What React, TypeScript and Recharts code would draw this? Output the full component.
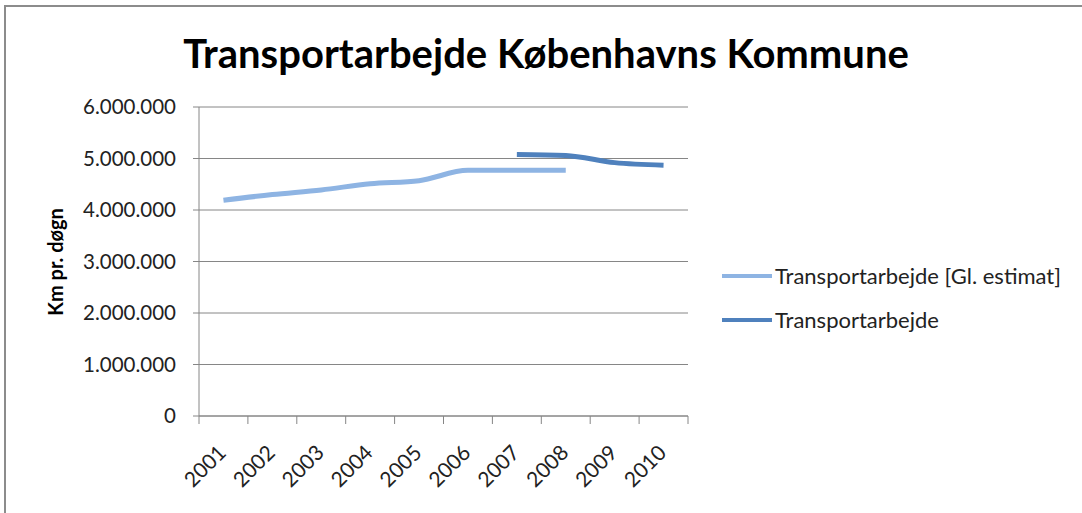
import React from "react"
import { LineChart, Line, XAxis, YAxis, CartesianGrid } from "recharts"

const years = ["2001", "2002", "2003", "2004", "2005", "2006", "2007", "2008", "2009", "2010"]
const oldEstimate = [4190000, 4300000, 4390000, 4510000, 4570000, 4770000, 4770000, 4770000, null, null]
const actual = [null, null, null, null, null, null, 5080000, 5060000, 4920000, 4870000]
const yTicks = [0, 1000000, 2000000, 3000000, 4000000, 5000000, 6000000]
const seriesNames = ["Transportarbejde [Gl. estimat]", "Transportarbejde"]
const seriesColors = ["#8eb4e3", "#4f81bd"]

const data = years.map((year, i) => ({
  year,
  old: oldEstimate[i],
  actual: actual[i],
}))

const W = 1082
const H = 513
const PLOT_LEFT = 199
const PLOT_RIGHT = 688
const BAND = (PLOT_RIGHT - PLOT_LEFT) / years.length
const FONT = "Lato, 'Open Sans', sans-serif"
const GRAY = "#868686"

const fmt = (v: number) => v.toString().replace(/\B(?=(\d{3})+(?!\d))/g, ".")

const XTick = (props: any) => {
  const { x, y, payload, index } = props
  const half = BAND / 2
  return (
    <g>
      <line x1={x - half} x2={x - half} y1={y - 8} y2={y} stroke={GRAY} />
      {index === years.length - 1 && (
        <line x1={x + half} x2={x + half} y1={y - 8} y2={y} stroke={GRAY} />
      )}
      <text
        x={x + 4}
        y={y + 30}
        textAnchor="end"
        transform={`rotate(-45, ${x + 4}, ${y + 30})`}
        fontSize={21}
        fontFamily={FONT}
        fill="#222"
      >
        {payload.value}
      </text>
    </g>
  )
}

export default function App() {
  return (
    <div style={{ position: "absolute", left: 0, top: 0, width: W, height: H, background: "#fff" }}>
      <div
        style={{
          position: "absolute",
          left: 4,
          top: 5,
          width: W - 4,
          height: H - 5,
          borderTop: "2px solid #8c8c8c",
          borderLeft: "2px solid #8c8c8c",
          boxSizing: "border-box",
        }}
      />
      <div
        style={{
          position: "absolute",
          left: 0,
          width: 1092,
          top: 28,
          textAlign: "center",
          fontFamily: FONT,
          fontWeight: 700,
          fontSize: 40,
          color: "#000",
          lineHeight: "50px",
        }}
      >
        Transportarbejde Københavns Kommune
      </div>
      <LineChart
        width={W}
        height={H}
        data={data}
        margin={{ top: 107, right: W - PLOT_RIGHT, bottom: 0, left: 0 }}
        style={{ position: "absolute", left: 0, top: 0 }}
      >
        <CartesianGrid vertical={false} stroke={GRAY} strokeWidth={1} />
        <XAxis
          dataKey="year"
          height={97}
          padding={{ left: BAND / 2, right: BAND / 2 }}
          axisLine={{ stroke: GRAY }}
          tickLine={false}
          tickSize={8}
          tickMargin={0}
          interval={0}
          tick={<XTick />}
        />
        <YAxis
          width={PLOT_LEFT}
          domain={[0, 6000000]}
          ticks={yTicks}
          interval={0}
          tickFormatter={fmt}
          axisLine={{ stroke: GRAY }}
          tickLine={{ stroke: GRAY }}
          tickSize={6}
          tickMargin={17}
          tick={{ fontSize: 20.5, fontFamily: FONT, fill: "#222" }}
          label={{
            content: () => (
              <text
                x={55}
                y={262}
                textAnchor="middle"
                dominantBaseline="central"
                transform="rotate(-90, 55, 262)"
                fontSize={20}
                fontWeight={700}
                fontFamily={FONT}
                fill="#000"
              >
                Km pr. døgn
              </text>
            ),
          }}
        />
        <Line
          dataKey="old"
          name={seriesNames[0]}
          type="monotone"
          stroke={seriesColors[0]}
          strokeWidth={5}
          dot={false}
          isAnimationActive={false}
        />
        <Line
          dataKey="actual"
          name={seriesNames[1]}
          type="monotone"
          stroke={seriesColors[1]}
          strokeWidth={5}
          dot={false}
          isAnimationActive={false}
        />
      </LineChart>
      {seriesNames.map((name, i) => (
        <div
          key={name}
          style={{
            position: "absolute",
            left: 722,
            top: 262 + i * 44,
            display: "flex",
            alignItems: "center",
            fontFamily: FONT,
            fontSize: 22,
            color: "#222",
            whiteSpace: "nowrap",
          }}
        >
          <span style={{ display: "inline-block", width: 50, height: 4, background: seriesColors[i], marginRight: 3 }} />
          {name}
        </div>
      ))}
    </div>
  )
}
